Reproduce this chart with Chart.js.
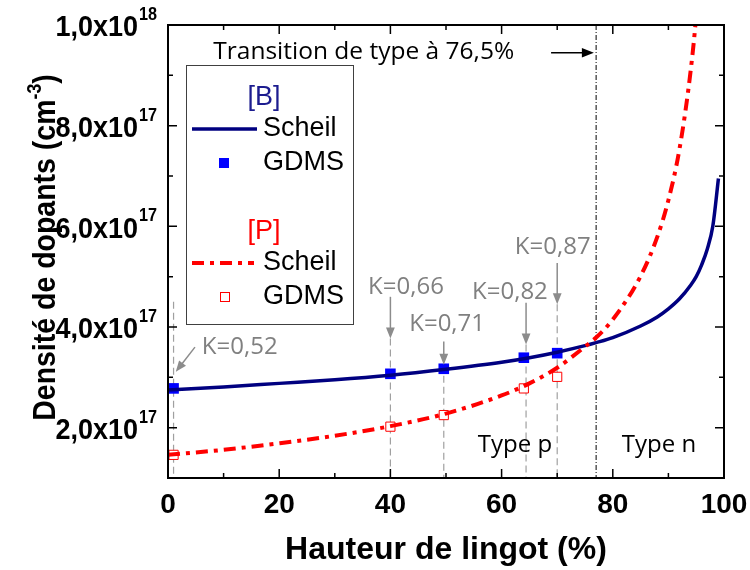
<!DOCTYPE html>
<html>
<head>
<meta charset="utf-8">
<script src="https://cdn.jsdelivr.net/npm/chart.js@4.4.1/dist/chart.umd.min.js"></script>
<style>
  html, body { margin: 0; padding: 0; background: #fff; }
</style>
</head>
<body>
<canvas id="grafico" width="750" height="570"></canvas>
<script>
// courbes de Scheil (hauteur en %, densité en cm-3)
const hauteurScheilB = [0, 10, 20, 30, 40, 50, 60, 65, 70, 75, 77, 80, 85, 88, 90, 92, 94, 95, 96, 97, 98, 99];
const scheilB = [2.75e17, 2.81e17, 2.88e17, 2.95e17, 3.04e17, 3.16e17, 3.30e17, 3.39e17, 3.50e17, 3.63e17, 3.69e17,
  3.79e17, 4.02e17, 4.20e17, 4.36e17, 4.56e17, 4.83e17, 5.00e17, 5.24e17, 5.55e17, 6.01e17, 6.95e17];

const hauteurScheilP = [0, 10, 20, 30, 40, 50, 60, 65, 70, 75, 77, 80, 85, 88, 90, 92, 94, 95, 96];
const scheilP = [1.46e17, 1.56e17, 1.69e17, 1.84e17, 2.03e17, 2.28e17, 2.64e17, 2.88e17, 3.19e17, 3.61e17, 3.79e17,
  4.15e17, 5.01e17, 5.79e17, 6.52e17, 7.54e17, 9.09e17, 10.2e17, 11.9e17];

// mesures GDMS
const hauteurGDMS = [1, 40, 49.6, 64, 70];
const gdmsB = [2.78e17, 3.07e17, 3.17e17, 3.39e17, 3.48e17];
const gdmsP = [1.46e17, 2.02e17, 2.25e17, 2.78e17, 3.01e17];
const coefK = ['K=0,52', 'K=0,66', 'K=0,71', 'K=0,82', 'K=0,87'];

const ticksX = [0, 20, 40, 60, 80, 100];
const ticksY = [2e17, 4e17, 6e17, 8e17, 1e18];
const mantissesY = ['2,0x10', '4,0x10', '6,0x10', '8,0x10', '1,0x10'];
const exposantsY = ['17', '17', '17', '17', '18'];

const transition = 77;

const bleuFonce = '#000080';
const bleu = '#0000ff';
const rouge = '#ff0000';
const gris = '#808080';

const policeAxe = '"Liberation Sans", Arial, sans-serif';
const policeNote = '"Open Sans", sans-serif';

// repères des flèches K : [x, haut de la flèche, pointe]
const flechesK = [
  null,
  [40, 4.60e17, 3.77e17],
  [49.6, 3.71e17, 3.25e17],
  [64.4, 4.48e17, 3.65e17],
  [70, 5.27e17, 4.45e17]
];
// position du texte K (x, y)
const positionsK = [[12.9, 3.59e17], [42.8, 4.80e17], [50.2, 4.05e17], [61.5, 4.70e17], [69.2, 5.58e17]];

function toXY(xs, ys) {
  return xs.map((x, i) => ({ x: x, y: ys[i] }));
}

function fleche(ctx, x1, y1, x2, y2, couleur, largeur, tete) {
  const a = Math.atan2(y2 - y1, x2 - x1);
  const c = Math.cos(a), s = Math.sin(a);
  ctx.save();
  ctx.strokeStyle = couleur;
  ctx.fillStyle = couleur;
  ctx.lineWidth = largeur;
  ctx.setLineDash([]);
  ctx.beginPath();
  ctx.moveTo(x1, y1);
  ctx.lineTo(x2 - c * tete * 0.7, y2 - s * tete * 0.7);
  ctx.stroke();
  ctx.beginPath();
  ctx.moveTo(x2, y2);
  ctx.lineTo(x2 - tete * c + tete * 0.4 * s, y2 - tete * s - tete * 0.4 * c);
  ctx.lineTo(x2 - tete * c - tete * 0.4 * s, y2 - tete * s + tete * 0.4 * c);
  ctx.closePath();
  ctx.fill();
  ctx.restore();
}

const habillage = {
  id: 'habillage',
  beforeDatasetsDraw(chart) {
    const ctx = chart.ctx;
    const sx = chart.scales.x, sy = chart.scales.y;
    const bas = sy.getPixelForValue(1e17);
    ctx.save();
    // pointillés verticaux sous chaque mesure
    ctx.strokeStyle = '#a0a0a0';
    ctx.lineWidth = 1.2;
    ctx.setLineDash([7, 4]);
    hauteurGDMS.forEach((h, i) => {
      const f = flechesK[i];
      const x = sx.getPixelForValue(f ? f[0] : h);
      const haut = sy.getPixelForValue(f ? f[2] : 4.5e17);
      ctx.beginPath();
      ctx.moveTo(x, haut);
      ctx.lineTo(x, bas);
      ctx.stroke();
    });
    // transition de type
    ctx.strokeStyle = '#000';
    ctx.lineWidth = 1;
    ctx.setLineDash([5, 2, 1, 2]);
    const xt = sx.getPixelForValue(transition);
    ctx.beginPath();
    ctx.moveTo(xt, chart.chartArea.top);
    ctx.lineTo(xt, chart.chartArea.bottom);
    ctx.stroke();
    ctx.restore();
  },
  afterDraw(chart) {
    const ctx = chart.ctx;
    const ca = chart.chartArea;
    const sx = chart.scales.x, sy = chart.scales.y;
    ctx.save();

    // cadre
    ctx.strokeStyle = '#000';
    ctx.lineWidth = 2;
    ctx.strokeRect(ca.left, ca.top, ca.right - ca.left, ca.bottom - ca.top);

    // graduations vers l'intérieur
    ctx.lineWidth = 1.5;
    for (let v = 10; v < 100; v += 10) {
      const x = sx.getPixelForValue(v);
      const l = v % 20 === 0 ? 9 : 5;
      ctx.beginPath();
      ctx.moveTo(x, ca.bottom); ctx.lineTo(x, ca.bottom - l);
      ctx.moveTo(x, ca.top); ctx.lineTo(x, ca.top + l);
      ctx.stroke();
    }
    for (let k = 2; k < 10; k++) {
      const y = sy.getPixelForValue(k * 1e17);
      const l = k % 2 === 0 ? 9 : 5;
      ctx.beginPath();
      ctx.moveTo(ca.left, y); ctx.lineTo(ca.left + l, y);
      ctx.moveTo(ca.right, y); ctx.lineTo(ca.right - l, y);
      ctx.stroke();
    }

    // étiquettes de l'axe Y (police resserrée)
    ctx.fillStyle = '#000';
    ctx.textAlign = 'right';
    ctx.textBaseline = 'middle';
    ticksY.forEach((v, i) => {
      const y = sy.getPixelForValue(v);
      ctx.save();
      ctx.translate(157, 0);
      ctx.scale(0.9, 1);
      ctx.font = 'bold 18px ' + policeAxe;
      const wExp = ctx.measureText(exposantsY[i]).width;
      ctx.fillText(exposantsY[i], 0, y - 10);
      ctx.font = 'bold 30px ' + policeAxe;
      ctx.fillText(mantissesY[i], -wExp - 1, y + 3);
      ctx.restore();
    });

    // titre de l'axe Y
    ctx.save();
    ctx.translate(55, (ca.top + ca.bottom) / 2 - 4);
    ctx.rotate(-Math.PI / 2);
    ctx.scale(0.89, 1);
    ctx.textAlign = 'left';
    ctx.textBaseline = 'alphabetic';
    const t1 = 'Densité de dopants (cm', t2 = '-3', t3 = ')';
    ctx.font = 'bold 32px ' + policeAxe;
    const w1 = ctx.measureText(t1).width, w3 = ctx.measureText(t3).width;
    ctx.font = 'bold 20px ' + policeAxe;
    const w2 = ctx.measureText(t2).width;
    const debut = -(w1 + w2 + w3) / 2;
    ctx.font = 'bold 32px ' + policeAxe;
    ctx.fillText(t1, debut, 0);
    ctx.fillText(t3, debut + w1 + w2, 0);
    ctx.font = 'bold 20px ' + policeAxe;
    ctx.fillText(t2, debut + w1, -14);
    ctx.restore();

    // flèches et coefficients K
    ctx.font = '24px ' + policeNote;
    ctx.textAlign = 'center';
    ctx.textBaseline = 'middle';
    ctx.fillStyle = gris;
    coefK.forEach((k, i) => {
      const p = positionsK[i];
      ctx.fillText(k, sx.getPixelForValue(p[0]), sy.getPixelForValue(p[1]));
      const f = flechesK[i];
      if (f) {
        const x = sx.getPixelForValue(f[0]);
        fleche(ctx, x, sy.getPixelForValue(f[1]), x, sy.getPixelForValue(f[2]), '#8c8c8c', 1.5, 11);
      }
    });
    fleche(ctx, sx.getPixelForValue(4.85), sy.getPixelForValue(3.60e17),
      sx.getPixelForValue(1.4), sy.getPixelForValue(3.11e17), '#8c8c8c', 1.5, 11);

    // transition de type
    ctx.fillStyle = '#000';
    ctx.font = '24.5px ' + policeNote;
    ctx.fillText('Transition de type à 76,5%', sx.getPixelForValue(35.2), sy.getPixelForValue(9.47e17));
    fleche(ctx, sx.getPixelForValue(68.9), sy.getPixelForValue(9.45e17),
      sx.getPixelForValue(76.6), sy.getPixelForValue(9.45e17), '#000', 1.5, 12);
    ctx.font = '24px ' + policeNote;
    ctx.fillText('Type p', sx.getPixelForValue(62.4), sy.getPixelForValue(1.66e17));
    ctx.fillText('Type n', sx.getPixelForValue(88.3), sy.getPixelForValue(1.66e17));

    // légende
    const lx = ca.left + 18, ly = ca.top + 40;
    ctx.fillStyle = '#fff';
    ctx.fillRect(lx, ly, 167, 259);
    ctx.strokeStyle = '#404040';
    ctx.lineWidth = 1;
    ctx.strokeRect(lx + 0.5, ly + 0.5, 167, 259);
    ctx.font = '27px ' + policeAxe;
    ctx.textBaseline = 'middle';
    ctx.textAlign = 'center';
    ctx.fillStyle = '#1c1c8f';
    ctx.fillText('[B]', lx + 78, ly + 33);
    ctx.fillStyle = rouge;
    ctx.fillText('[P]', lx + 78, ly + 167);
    ctx.textAlign = 'left';
    ctx.fillStyle = '#000';
    ['Scheil', 'GDMS', 'Scheil', 'GDMS'].forEach((t, i) => {
      ctx.fillText(t, lx + 77, ly + [64, 98, 198, 232][i]);
    });
    ctx.lineWidth = 3.5;
    ctx.strokeStyle = bleuFonce;
    ctx.beginPath();
    ctx.moveTo(lx + 6, ly + 64); ctx.lineTo(lx + 71, ly + 64);
    ctx.stroke();
    ctx.fillStyle = bleu;
    ctx.fillRect(lx + 33, ly + 93, 10, 10);
    ctx.lineWidth = 4;
    ctx.strokeStyle = rouge;
    ctx.setLineDash([12, 6, 4, 6]);
    ctx.beginPath();
    ctx.moveTo(lx + 6, ly + 198); ctx.lineTo(lx + 68, ly + 198);
    ctx.stroke();
    ctx.setLineDash([]);
    ctx.lineWidth = 1;
    ctx.strokeRect(lx + 34.5, ly + 227.5, 9, 9);

    ctx.restore();
  }
};

const ctx = document.getElementById('grafico').getContext('2d');
new Chart(ctx, {
  type: 'scatter',
  data: {
    datasets: [
      {
        label: '[P] Scheil',
        data: toXY(hauteurScheilP, scheilP),
        showLine: true,
        borderColor: rouge,
        borderWidth: 4,
        borderDash: [12, 6, 4, 6],
        pointRadius: 0,
        cubicInterpolationMode: 'monotone'
      },
      {
        label: '[B] Scheil',
        data: toXY(hauteurScheilB, scheilB),
        showLine: true,
        borderColor: bleuFonce,
        borderWidth: 3.5,
        pointRadius: 0,
        cubicInterpolationMode: 'monotone'
      },
      {
        label: '[B] GDMS',
        data: toXY(hauteurGDMS, gdmsB),
        pointStyle: 'rect',
        pointRadius: 7.5,
        backgroundColor: bleu,
        borderColor: bleu,
        borderWidth: 0
      },
      {
        label: '[P] GDMS',
        data: toXY(hauteurGDMS, gdmsP),
        pointStyle: 'rect',
        pointRadius: 6.5,
        backgroundColor: '#ffffff',
        borderColor: rouge,
        borderWidth: 1
      }
    ]
  },
  options: {
    responsive: false,
    animation: false,
    layout: { padding: { top: 25, right: 26, left: 0, bottom: 0 } },
    plugins: {
      legend: { display: false },
      tooltip: { enabled: false }
    },
    scales: {
      x: {
        type: 'linear',
        min: 0,
        max: 100,
        afterFit: (s) => { s.height = 92; s.paddingLeft = 0; s.paddingRight = 0; },
        afterBuildTicks: (s) => { s.ticks = ticksX.map(v => ({ value: v })); },
        grid: { display: false, drawTicks: false },
        border: { display: false },
        ticks: {
          padding: 10,
          color: '#000',
          maxRotation: 0,
          font: { family: policeAxe, size: 28, weight: 'bold' }
        },
        title: {
          display: true,
          text: 'Hauteur de lingot (%)',
          color: '#000',
          padding: { top: 0, bottom: 1 },
          font: { family: policeAxe, size: 32, weight: 'bold' }
        }
      },
      y: {
        type: 'linear',
        min: 1e17,
        max: 1e18,
        afterFit: (s) => { s.width = 168; s.paddingTop = 0; s.paddingBottom = 0; },
        grid: { display: false },
        border: { display: false },
        ticks: { display: false }
      }
    }
  },
  plugins: [habillage]
});
</script>
</body>
</html>
